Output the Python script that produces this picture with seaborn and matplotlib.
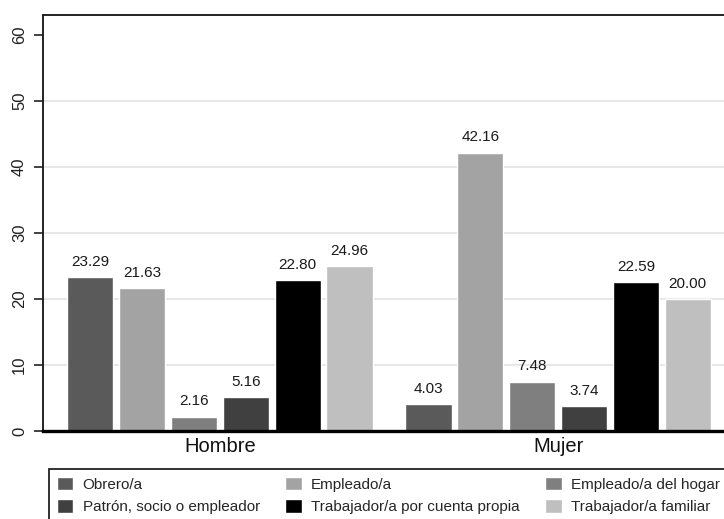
import pandas as pd
import seaborn as sns
import matplotlib.pyplot as plt
from matplotlib.patches import Rectangle

SEXOS = ['Hombre', 'Mujer']
CATEGORIAS = ['Obrero/a', 'Empleado/a', 'Empleado/a del hogar',
              'Patrón, socio o empleador', 'Trabajador/a por cuenta propia',
              'Trabajador/a familiar']
HOMBRE = [23.29, 21.63, 2.16, 5.16, 22.80, 24.96]
MUJER = [4.03, 42.16, 7.48, 3.74, 22.59, 20.00]
COLORES = ['#5a5a5a', '#a3a3a3', '#7f7f7f', '#404040', '#000000', '#bfbfbf']

data = pd.DataFrame({
    'sexo': [s for s in SEXOS for _ in CATEGORIAS],
    'categoria': CATEGORIAS * 2,
    'valor': HOMBRE + MUJER,
})

sns.set_style('white')
plt.rcParams['font.family'] = ['Liberation Sans', 'DejaVu Sans']

W, H = 724, 519
fig = plt.figure(figsize=(W / 100, H / 100), dpi=100)
ax = fig.add_axes([43 / W, 1 - 431 / H, (735 - 43) / W, 416 / H])

sns.barplot(data=data, x='sexo', y='valor', hue='categoria', order=SEXOS,
            hue_order=CATEGORIAS, palette=COLORES, width=0.92, gap=0.11,
            saturation=1, ax=ax, errorbar=None)

for c in ax.containers:
    ax.bar_label(c, fmt='%.2f', padding=6, fontsize=11, color='#1a1a1a')

ax.set_ylim(0, 63)
ax.set_xlim(-0.523, 1.523)
ax.set_yticks([0, 10, 20, 30, 40, 50, 60])
ax.tick_params(axis='y', left=True, direction='out', length=6.5, width=1.3,
               color='#333333', labelsize=12, labelrotation=90, pad=5,
               labelcolor='#222222')
for t in ax.get_yticklabels():
    t.set_va('center')
ax.tick_params(axis='x', length=0, labelsize=14.5, pad=4, labelcolor='#111111')
ax.set_xlabel('')
ax.set_ylabel('')
ax.yaxis.grid(True, color='#e3e3e3', linewidth=1.2)
ax.get_ygridlines()[-1].set_visible(False)
ax.set_axisbelow(True)
for s in ['left', 'top', 'right']:
    ax.spines[s].set_color('#222222')
    ax.spines[s].set_linewidth(1.4)
ax.spines['bottom'].set_color('black')
ax.spines['bottom'].set_linewidth(2.4)

# legend box runs off the right and bottom edges, as in the original
fig.patches.append(Rectangle((49 / W, -0.1), 1.0, 1 - 469 / H + 0.1,
                             transform=fig.transFigure, fill=False,
                             edgecolor='#222222', linewidth=1.3))

handles, labels = ax.get_legend_handles_labels()
ax.get_legend().remove()
order = [0, 3, 1, 4, 2, 5]
fig.legend([handles[i] for i in order], [labels[i] for i in order],
           ncol=3, loc='upper left', bbox_to_anchor=(49 / W, 1 - 469 / H),
           frameon=False, fontsize=11, handlelength=1.1, handleheight=1.0,
           handletextpad=0.6, columnspacing=1.65, labelspacing=0.5,
           borderpad=0.5, borderaxespad=0)

fig.savefig('out.png', dpi=100)
